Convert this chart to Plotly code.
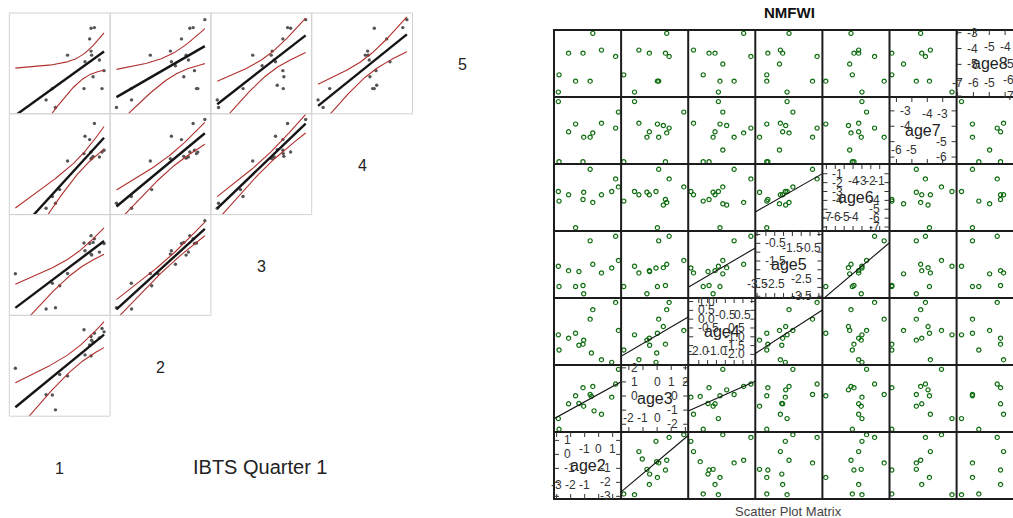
import numpy as np
import plotly.graph_objects as go

W, H = 1013, 518
nan = float("nan")

# ---------------- NMFWI survey indices (right panel), one entry per year ----------------
nm_age2 = [1.41, 1.21, 0.93, 0.20, -0.33, -0.42, -0.52, -0.61, -1.07, -1.12, -1.41, -1.65, -2.15, -2.83, -2.88, nan, nan]
nm_age3 = [1.89, 0.85, -0.08, -1.29, -1.05, 0.68, -0.03, 0.11, -0.72, 0.59, -0.53, 0.02, -0.55, -2.36, -1.60, nan, 0.44]
nm_age4 = [-0.64, 0.95, -2.45, -2.30, nan, 0.54, -1.92, 0.00, -1.19, -1.42, -1.48, -0.80, -1.08, -1.75, -0.89, -0.64, -0.42]
nm_age5 = [-1.47, -0.10, -1.90, -2.18, nan, -1.69, nan, -0.36, -3.36, -2.89, -2.10, -2.95, -2.05, -2.95, -1.80, -2.23, -1.88]
nm_age6 = [-2.48, -1.58, -3.00, -3.37, nan, -4.23, nan, -0.50, -3.08, -3.90, nan, -7.07, -3.37, -4.08, -3.00, -4.38, -4.52]
nm_age7 = [-3.08, -4.12, nan, -3.80, nan, -4.43, nan, -4.71, -4.71, -6.30, nan, -3.86, -4.36, -6.30, -2.40, -5.54, -3.95]
nm_age8 = [nan, -4.50, nan, -4.10, nan, -3.04, nan, -6.06, nan, -4.29, nan, -6.06, -4.29, -5.66, -6.75, -4.98, nan]
nm_names = ["age2", "age3", "age4", "age5", "age6", "age7", "age8"]
nm_lo = [-3.19, -2.55, -2.60, -3.60, -7.45, -6.45, -7.06]
nm_hi = [1.60, 2.20, 1.20, 0.20, 0.10, -2.10, -2.83]
nm_ticks = [
    [-3, -2, -1, 0, 1],
    [-2, -1, 0, 1, 2],
    [-2.0, -1.5, -1.0, -0.5, 0.0, 0.5, 1.0],
    [-3.5, -3.0, -2.5, -2.0, -1.5, -1.0, -0.5, 0.0],
    [-7, -6, -5, -4, -3, -2, -1],
    [-6, -5, -4, -3],
    [-7, -6, -5, -4, -3],
]
nm_tick_decimals = [0, 0, 1, 1, 0, 0, 0]
nm_thin_x = [False, False, True, True, False, False, False]
nm_thin_y = [False, False, False, True, False, False, False]
nm_fit_pairs = [("age2", "age3"), ("age3", "age4"), ("age4", "age5"), ("age5", "age6")]

# ---------------- IBTS Quarter 1 indices (left panel), ages 1-5 ----------------
ibts_age1 = [nan, 8.44, 8.11, 7.97, 8.11, 5.78, 8.17, 8.94, 7.51, nan, 9.40, 8.31, nan, 7.41, 4.27, 3.65, 4.58, 9.20, 0.60, 5.00]
ibts_age2 = [9.40, 8.24, 7.91, 7.08, 5.98, 3.99, 7.54, 7.77, 6.08, 6.48, 8.37, 7.31, nan, 8.57, 2.10, 2.13, 0.63, 8.70, 4.75, 4.13]
ibts_age3 = [9.40, 7.61, 7.91, 7.14, 6.08, 4.15, 5.98, 6.28, 6.41, 5.08, 7.14, 7.24, 6.58, 7.18, 3.19, 0.63, 0.76, nan, 4.13, 2.94]
ibts_age4 = [9.44, 9.04, 6.21, 7.44, 5.55, 5.32, 5.60, 5.71, 7.77, nan, 6.38, 5.78, 6.45, 6.05, 1.79, 0.63, 1.13, 6.20, nan, 2.48]
ibts_age5 = [9.34, 8.55, 8.49, 7.43, 6.22, 5.82, 5.82, 5.33, 5.16, 4.77, 4.28, 3.68, 2.83, 2.50, 2.50, 1.38, 0.63, 2.50, nan, nan]
ibts_labels = ["1", "2", "3", "4", "5"]

FONT = "Liberation Sans, Arial, Helvetica, sans-serif"


def fx(px):
    return px / W


def fy(py):
    return 1 - py / H


def t975(df):
    z = 1.959964
    return (z + (z**3 + z) / (4 * df) + (5 * z**5 + 16 * z**3 + 3 * z) / (96 * df**2)
            + (3 * z**7 + 19 * z**5 + 17 * z**3 - 15 * z) / (384 * df**3))


def ols(x, y):
    m = ~np.isnan(x) & ~np.isnan(y)
    xs, ys = x[m], y[m]
    b, a = np.polyfit(xs, ys, 1)
    n = len(xs)
    resid = ys - (a + b * xs)
    s = np.sqrt((resid**2).sum() / (n - 2))
    xbar = xs.mean()
    sxx = ((xs - xbar) ** 2).sum()
    return a, b, s, n, xbar, sxx


fig = go.Figure()
axes = {}
shapes = []
annotations = []


def ax_id(kind, k):
    return kind if k == 1 else f"{kind}{k}"


# ======================= RIGHT PANEL: scatter plot matrix =======================
RX0, RY0, RC, RR = 554.0, 30.0, 67.1, 67.0
nm_data = [np.array(v, float) for v in (nm_age2, nm_age3, nm_age4, nm_age5, nm_age6, nm_age7, nm_age8)]
NV = len(nm_data)

for c in range(NV):
    xl = RX0 + c * RC
    xr = min(xl + RC, W)
    lo, hi = nm_lo[c], nm_hi[c]
    hi_vis = lo + (hi - lo) * (xr - xl) / RC
    axes["xaxis" if c == 0 else f"xaxis{c+1}"] = dict(
        domain=[fx(xl), fx(xr)], range=[lo, hi_vis], visible=False, anchor="y7")
for r in range(NV):
    k = NV - 1 - r
    yt = RY0 + r * RR
    axes["yaxis" if r == 0 else f"yaxis{r+1}"] = dict(
        domain=[fy(yt + RR), fy(yt)], range=[nm_lo[k], nm_hi[k]], visible=False, anchor="x")

fit_set = set()
for a_, b_ in nm_fit_pairs:
    ia, ib = nm_names.index(a_), nm_names.index(b_)
    fit_set.add((ia, ib))
    fit_set.add((ib, ia))

for r in range(NV):
    yk = NV - 1 - r
    for c in range(NV):
        if c == yk:
            continue
        xs, ys = nm_data[c], nm_data[yk]
        fig.add_trace(go.Scatter(
            x=xs, y=ys, mode="markers", xaxis=ax_id("x", c + 1), yaxis=ax_id("y", r + 1),
            marker=dict(symbol="circle-open", size=4.2, color="#0f6e0f", line=dict(width=1.2)),
            hoverinfo="skip", showlegend=False, cliponaxis=True))
        if (c, yk) in fit_set:
            a, b, *_ = ols(xs, ys)
            xl_ = np.array([nm_lo[c], nm_hi[c]])
            fig.add_trace(go.Scatter(
                x=xl_, y=a + b * xl_, mode="lines", xaxis=ax_id("x", c + 1), yaxis=ax_id("y", r + 1),
                line=dict(color="#111111", width=1.1), hoverinfo="skip", showlegend=False))

# grid borders
grid_right = min(RX0 + NV * RC, W)
for i in range(NV + 1):
    x = RX0 + i * RC
    if x <= W:
        shapes.append(dict(type="line", xref="paper", yref="paper", x0=fx(x), x1=fx(x),
                           y0=fy(RY0), y1=fy(RY0 + NV * RR), line=dict(color="#1c1c1c", width=2)))
    y = RY0 + i * RR
    shapes.append(dict(type="line", xref="paper", yref="paper", x0=fx(RX0 - 1), x1=fx(grid_right),
                       y0=fy(y), y1=fy(y), line=dict(color="#1c1c1c", width=2)))

# diagonal panels: variable names + inner axes
TICK = 5
for k in range(NV):
    r, c = NV - 1 - k, k
    left, top = RX0 + c * RC, RY0 + r * RR
    right, bottom = left + RC, top + RR
    lo, hi = nm_lo[k], nm_hi[k]
    ticks = nm_ticks[k]
    mid = (ticks[0] + ticks[-1]) / 2.0
    dec = nm_tick_decimals[k]

    def lab(v):
        return f"{v:.{dec}f}"

    annotations.append(dict(x=fx(left + RC / 2), y=fy(top + RR / 2), xref="paper", yref="paper",
                            text=nm_names[k], showarrow=False, xanchor="center", yanchor="middle",
                            font=dict(family=FONT, size=16, color="#222222")))
    for t in ticks:
        ty = top + (hi - t) / (hi - lo) * RR
        tx = left + (t - lo) / (hi - lo) * RC
        if top <= ty <= bottom:
            shapes.append(dict(type="line", xref="paper", yref="paper", x0=fx(left), x1=fx(left + TICK),
                               y0=fy(ty), y1=fy(ty), line=dict(color="#333333", width=1)))
            if right <= W:
                shapes.append(dict(type="line", xref="paper", yref="paper", x0=fx(right - TICK), x1=fx(right),
                                   y0=fy(ty), y1=fy(ty), line=dict(color="#333333", width=1)))
        if left <= tx <= min(right, W):
            shapes.append(dict(type="line", xref="paper", yref="paper", x0=fx(tx), x1=fx(tx),
                               y0=fy(top), y1=fy(top + TICK), line=dict(color="#333333", width=1)))
            shapes.append(dict(type="line", xref="paper", yref="paper", x0=fx(tx), x1=fx(tx),
                               y0=fy(bottom - TICK), y1=fy(bottom), line=dict(color="#333333", width=1)))

    upper = [t for t in ticks if t >= mid - 1e-9]
    lower = [t for t in ticks if t <= mid + 1e-9]
    ux = upper[::2] if nm_thin_x[k] else upper
    lx = lower[::2] if nm_thin_x[k] else lower
    uy = upper[::2] if nm_thin_y[k] else upper
    ly = lower[::2] if nm_thin_y[k] else lower
    tf = dict(family=FONT, size=12, color="#333333")
    for t in uy:
        ty = top + (hi - t) / (hi - lo) * RR
        annotations.append(dict(x=fx(left + 8), y=fy(ty), xref="paper", yref="paper", text=lab(t),
                                showarrow=False, xanchor="left", yanchor="middle", font=tf))
    for t in ly:
        ty = top + (hi - t) / (hi - lo) * RR
        annotations.append(dict(x=fx(right - 8), y=fy(ty), xref="paper", yref="paper", text=lab(t),
                                showarrow=False, xanchor="right", yanchor="middle", font=tf))
    for t in ux:
        tx = left + (t - lo) / (hi - lo) * RC
        annotations.append(dict(x=fx(tx), y=fy(top + 17), xref="paper", yref="paper", text=lab(t),
                                showarrow=False, xanchor="center", yanchor="middle", font=tf))
    for t in lx:
        tx = left + (t - lo) / (hi - lo) * RC
        annotations.append(dict(x=fx(tx), y=fy(bottom - 14), xref="paper", yref="paper", text=lab(t),
                                showarrow=False, xanchor="center", yanchor="middle", font=tf))

annotations.append(dict(x=fx(789), y=fy(13), xref="paper", yref="paper", text="<b>NMFWI</b>",
                        showarrow=False, xanchor="center", yanchor="middle",
                        font=dict(family=FONT, size=15, color="#111111")))
annotations.append(dict(x=fx(788), y=fy(511), xref="paper", yref="paper", text="Scatter Plot Matrix",
                        showarrow=False, xanchor="center", yanchor="middle",
                        font=dict(family=FONT, size=13, color="#444444")))

# ======================= LEFT PANEL: IBTS Quarter 1 =======================
LX0, LY0, LC = 9.3, 13.0, 100.8
ib_data = [np.array(v, float) for v in (ibts_age1, ibts_age2, ibts_age3, ibts_age4, ibts_age5)]
NL = 4
XOFF, YOFF = 7, 7  # axis index offsets

for c in range(NL):
    xl = LX0 + c * LC
    axes[f"xaxis{XOFF + c + 1}"] = dict(domain=[fx(xl), fx(xl + LC)], range=[0, 10], visible=False,
                                        anchor=f"y{YOFF + 1}")
for r in range(NL):
    yt = LY0 + r * LC
    axes[f"yaxis{YOFF + r + 1}"] = dict(domain=[fy(yt + LC), fy(yt)], range=[0, 10], visible=False,
                                        anchor=f"x{XOFF + 1}")

for r in range(NL):
    yk = 4 - r
    for c in range(NL - r):
        xs, ys = ib_data[c], ib_data[yk]
        xa, ya = f"x{XOFF + c + 1}", f"y{YOFF + r + 1}"
        xl, yt = LX0 + c * LC, LY0 + r * LC
        shapes.append(dict(type="rect", xref="paper", yref="paper", x0=fx(xl), x1=fx(xl + LC),
                           y0=fy(yt + LC), y1=fy(yt), line=dict(color="#d2d2d2", width=1)))
        fig.add_trace(go.Scatter(x=xs, y=ys, mode="markers", xaxis=xa, yaxis=ya,
                                 marker=dict(size=3.4, color="#555555"), hoverinfo="skip",
                                 showlegend=False))
        a, b, s, n, xbar, sxx = ols(xs, ys)
        xv = xs[~np.isnan(xs)]
        grid = np.linspace(xv.min(), xv.max(), 80)
        yhat = a + b * grid
        half = t975(n - 2) * s * np.sqrt(1.0 / n + (grid - xbar) ** 2 / sxx)
        for sign in (1, -1):
            fig.add_trace(go.Scatter(x=grid, y=yhat + sign * half, mode="lines", xaxis=xa, yaxis=ya,
                                     line=dict(color="#b0302c", width=1.1), hoverinfo="skip",
                                     showlegend=False))
        fig.add_trace(go.Scatter(x=grid, y=yhat, mode="lines", xaxis=xa, yaxis=ya,
                                 line=dict(color="#151515", width=2.4), hoverinfo="skip",
                                 showlegend=False))

for d in range(5):
    r = 4 - d  # row of diagonal label
    cx = LX0 + (4 - r) * LC + LC / 2
    cy = LY0 + r * LC + LC / 2
    annotations.append(dict(x=fx(cx), y=fy(cy + 1.5), xref="paper", yref="paper", text=ibts_labels[d],
                            showarrow=False, xanchor="center", yanchor="middle",
                            font=dict(family=FONT, size=16, color="#222222")))
annotations.append(dict(x=fx(260), y=fy(467), xref="paper", yref="paper", text="IBTS Quarter 1",
                        showarrow=False, xanchor="center", yanchor="middle",
                        font=dict(family=FONT, size=20, color="#222222")))

fig.update_layout(
    width=W, height=H, autosize=False,
    margin=dict(l=0, r=0, t=0, b=0),
    paper_bgcolor="white", plot_bgcolor="white",
    showlegend=False, hovermode=False,
    shapes=shapes, annotations=annotations,
    **axes,
)
fig.write_html(
    "out.html",
    config={"displayModeBar": False, "responsive": False},
    post_script="document.body.style.margin='0px';document.body.style.overflow='hidden';",
)
